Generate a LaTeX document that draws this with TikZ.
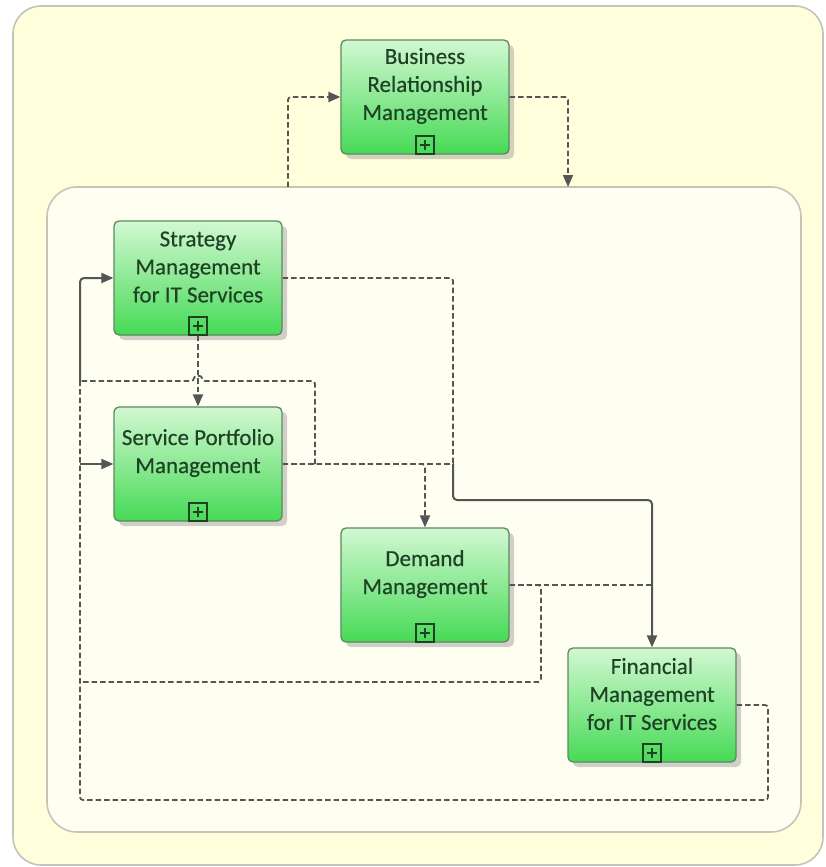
\documentclass[tikz,border=0pt]{standalone}
\usepackage{fontspec}
\setmainfont[FakeBold=0.35]{Carlito}
\usetikzlibrary{arrows.meta,shadows,calc}

\definecolor{paneyellow}{HTML}{FFFFDC}
\definecolor{coreivory}{HTML}{FEFEF1}
\definecolor{frameline}{HTML}{C4C4B8}
\definecolor{boxtop}{HTML}{D2F8D2}
\definecolor{boxbottom}{HTML}{46DA56}
\definecolor{boxline}{HTML}{5C8A5E}
\definecolor{labelgreen}{HTML}{1F4226}
\definecolor{wire}{HTML}{555555}

\begin{document}
\begin{tikzpicture}[x=1pt,y=-1pt,
  procbox/.style={draw=boxline, line width=1.3pt, rounded corners=5pt,
    minimum width=168pt, minimum height=114pt, inner sep=0pt,
    top color=boxtop, bottom color=boxbottom,
    drop shadow={shadow xshift=5pt, shadow yshift=-5pt, fill=black!45, opacity=0.4}},
  proclabel/.style={text=labelgreen, align=center, inner sep=0pt,
    font=\fontsize{23}{28}\selectfont},
  plusbox/.style={draw=labelgreen, line width=1.2pt, minimum size=18pt,
    inner sep=0pt, anchor=south,
    path picture={\draw[labelgreen, line width=1.5pt]
      ([xshift=-5pt]path picture bounding box.center) -- ([xshift=5pt]path picture bounding box.center)
      ([yshift=-5pt]path picture bounding box.center) -- ([yshift=5pt]path picture bounding box.center);}},
  dashflow/.style={draw=wire, line width=1.8pt, dash pattern=on 5.5pt off 3pt, rounded corners=3pt},
  solidflow/.style={draw=wire, line width=2pt, rounded corners=4pt},
  tip/.style={-{Triangle[length=12pt,width=10pt]}}
]
\useasboundingbox (0,0) rectangle (825,867);
\fill[white] (0,0) rectangle (825,867);

% outer pane and inner core area
\draw[frameline, line width=1.6pt, fill=paneyellow, rounded corners=28pt] (13,6) rectangle (823,865);
\draw[frameline, line width=1.6pt, fill=coreivory, rounded corners=30pt] (47,187) rectangle (801,832);

% process boxes
\node[procbox] (brm)  at (425,97)  {};
\node[procbox] (smit) at (198,278) {};
\node[procbox] (spm)  at (198,464) {};
\node[procbox] (dm)   at (425,585) {};
\node[procbox] (fm)   at (652,705) {};

\node[proclabel] (brm-t)  at ($(brm.center)+(0,-11)$)  {Business\\Relationship\\Management};
\node[proclabel] (smit-t) at ($(smit.center)+(0,-11)$) {Strategy\\Management\\for IT Services};
\node[proclabel] (spm-t)  at ($(spm.center)+(0,-11)$)  {Service Portfolio\\Management};
\node[proclabel] (dm-t)   at ($(dm.center)+(0,-11)$)   {Demand\\Management};
\node[proclabel] (fm-t)   at ($(fm.center)+(0,-11)$)   {Financial\\Management\\for IT Services};

\node[plusbox] (brm-x)  at (brm.south)  {};
\node[plusbox] (smit-x) at (smit.south) {};
\node[plusbox] (spm-x)  at (spm.south)  {};
\node[plusbox] (dm-x)   at (dm.south)   {};
\node[plusbox] (fm-x)   at (fm.south)   {};

% junction and bend points
\coordinate (coreOut) at (288,187);
\coordinate (coreIn)  at (568,187);
\coordinate (mergeA)  at (453,464);
\coordinate (bendB)   at (652,500);
\coordinate (loopTurn) at (315,464);
\coordinate (loopTop)  at (315,381);
\coordinate (hopR)    at (202,381);
\coordinate (hopL)    at (194,381);
\coordinate (leftTop) at (80,381);
\coordinate (leftMid) at (80,464);
\coordinate (fmJoin)  at (652,585);
\coordinate (dmBack)  at (541,682);
\coordinate (leftLow) at (80,682);
\coordinate (fmBack)  at (768,800);
\coordinate (leftBot) at (80,800);

% core area <-> business relationship management
\draw[dashflow,tip] (coreOut) |- (brm.west);
\draw[dashflow,tip] (brm.east) -| (coreIn);

% strategy -> portfolio, strategy -> financial
\draw[dashflow,tip] (smit.south) -- (spm.north);
\draw[dashflow] (smit.east) -| (mergeA);
\draw[solidflow,tip] (mergeA) |- (bendB) -- (fm.north);

% portfolio -> demand, portfolio feedback
\draw[dashflow,tip] (spm.east) -| (dm.north);
\draw[dashflow] (spm.east) -- (mergeA);
\draw[dashflow] (loopTurn) -- (loopTop) -- (hopR)
  .. controls ($(hopR)+(0,-6)$) and ($(hopL)+(0,-6)$) .. (hopL) -- (leftTop);
\draw[solidflow,tip] (leftTop) |- (smit.west);
\draw[solidflow,tip] (leftMid) -- (spm.west);

% demand outputs
\draw[dashflow] (dm.east) -- (fmJoin);
\draw[dashflow] (dm.east) -| (dmBack) -- (leftLow);

% financial feedback
\draw[dashflow] (fm.east) -| (fmBack) -- (leftBot) -- (leftTop);
\end{tikzpicture}
\end{document}
